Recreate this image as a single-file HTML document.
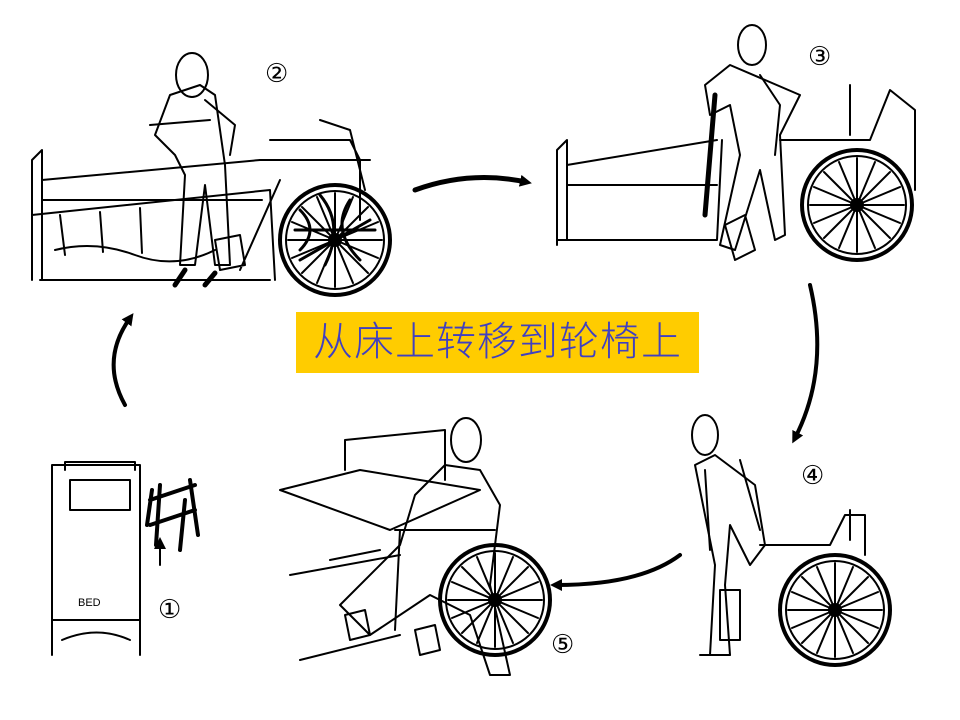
<!DOCTYPE html>
<html><head><meta charset="utf-8"><style>
body{margin:0;width:960px;height:720px;background:#fff;overflow:hidden;position:relative;font-family:"Liberation Sans","Noto Sans CJK SC",sans-serif}
#t{position:absolute;left:296px;top:312px;width:403px;height:61px;background:#ffcc00;color:#4040c0;font-size:40px;line-height:61px;text-align:center;letter-spacing:1px;font-weight:300}
svg{position:absolute;left:0;top:0}
</style></head><body>
<svg width="960" height="720" viewBox="0 0 960 720" fill="none" stroke="#000" stroke-width="2" stroke-linecap="round" stroke-linejoin="round">
<defs><marker id="a" markerWidth="12" markerHeight="12" refX="6" refY="6" orient="auto" markerUnits="userSpaceOnUse"><path d="M0,0 L12,6 L0,12 Z" fill="#000" stroke="none"/></marker>
<g id="wh"><circle r="55" stroke-width="4"/><circle r="49"/><circle r="6"/><path d="M0-47V47M-47 0H47M-33-33L33 33M-33 33L33-33M-18-43L18 43M-43-18L43 18M-43 18L43-18M-18 43L18-43"/></g></defs>
<path d="M415 190 Q470 170 526 182" stroke-width="5" marker-end="url(#a)"/>
<path d="M810 285 Q830 370 795 438" stroke-width="4" marker-end="url(#a)"/>
<path d="M680 555 Q640 585 556 585" stroke-width="4" marker-end="url(#a)"/>
<path d="M125 405 Q100 360 130 318" stroke-width="4" marker-end="url(#a)"/>
<!-- panel 2 -->
<path d="M32 280V160l10-10v130M42 180L260 160M42 200h220M32 215L270 190l5 90M40 280h230"/>
<path d="M55 250q40-10 80 5t80-5M60 215l5 40M100 212l3 40M140 208l2 45"/>
<ellipse cx="192" cy="75" rx="16" ry="22"/>
<path d="M170 95l-15 40 20 20 10 20-5 90h15l10-80 10 80h15l-5-100-10-70-15-10z"/>
<path d="M150 125l60-5M205 100l30 25-5 30"/>
<path d="M175 285l10-15M205 285l10-12" stroke-width="5"/>
<use href="#wh" x="335" y="240"/>
<path d="M300 210q20 20 0 40M320 195q25 30 5 70M350 200q-20 30 10 60M295 230h80M300 260l70-40" stroke-width="3"/>
<path d="M270 140h80l10 20v60M320 120l30 10 15 60M260 160h110M240 270l40-90M215 240l25-5 5 30-25 5z"/>
<text x="265" y="82" font-size="26" fill="#000" stroke="none" font-family="DejaVu Sans">②</text>
<!-- panel 3 -->
<path d="M557 245V150l10-10v100M567 165l150-25M567 185h150M557 240h160l5-100"/>
<ellipse cx="752" cy="45" rx="14" ry="20"/>
<path d="M730 65l-25 20 5 30 20-10 10 50-20 90 15 5 25-80 15 70 10-5-5-100 20-40z"/>
<path d="M760 75l20 30-5 50"/>
<path d="M715 95l-10 120" stroke-width="5"/>
<use href="#wh" x="857" y="205"/>
<path d="M780 140h90l20-50 25 20v80M850 85v50M725 225l20-10 10 35-20 10z"/>
<text x="808" y="65" font-size="26" fill="#000" stroke="none" font-family="DejaVu Sans">③</text>
<!-- panel 4 -->
<ellipse cx="705" cy="435" rx="13" ry="20"/>
<path d="M715 455l40 30 10 60-15 20-20-40-5 60 5 70h-20l5-90-20-100z"/>
<path d="M705 470l5 80M740 460l20 70"/>
<use href="#wh" x="835" y="610"/>
<path d="M760 545h70l15-30h20v40M850 510v30M720 590l20 0 0 50-20 0zM700 655h30"/>
<text x="801" y="484" font-size="26" fill="#000" stroke="none" font-family="DejaVu Sans">④</text>
<!-- panel 5 -->
<path d="M280 490L360 470l120 20-90 40zM345 440l100-10v50M345 440v30M290 575l110-20M300 660l100-25M330 560l50-10"/>
<ellipse cx="466" cy="440" rx="15" ry="22"/>
<path d="M445 465l-30 30-15 50-60 60 30 30 60-40 40 20 20 60h20l-20-90 10-80-20-35z"/>
<use href="#wh" x="495" y="600"/>
<path d="M395 530h100M400 530l-5 100M345 615l20-5 5 25-20 5zM415 630l20-5 5 25-20 5z"/>
<text x="551" y="653" font-size="26" fill="#000" stroke="none" font-family="DejaVu Sans">⑤</text>
<!-- panel 1 -->
<path d="M52 655V465h88v190M52 620h88M62 640q35-15 68 0M65 470v-8h70v8M70 480h60v30H70z"/>
<text x="78" y="606" font-size="11" fill="#000" stroke="none">BED</text>
<path d="M150 500l45-15M150 525l45-15M152 490l-5 35M190 480l8 55M160 485l-4 60M185 500l-5 50" stroke-width="4"/>
<path d="M160 565v-22" marker-end="url(#a)"/>
<text x="158" y="618" font-size="26" fill="#000" stroke="none" font-family="DejaVu Sans">①</text>
</svg>
<div id="t">从床上转移到轮椅上</div>
</body></html>
